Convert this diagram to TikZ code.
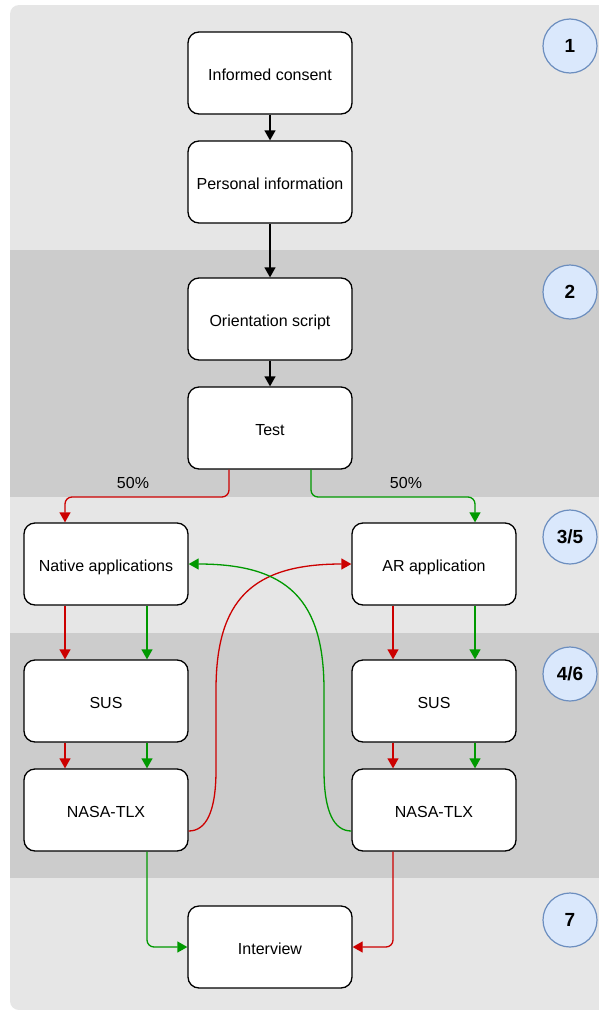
\documentclass[tikz,border=0pt]{standalone}
\usepackage{fontspec}
\setmainfont{Liberation Sans}
\usetikzlibrary{arrows.meta}
\definecolor{bandA}{HTML}{E6E6E6}
\definecolor{bandB}{HTML}{CCCCCC}
\definecolor{cfill}{HTML}{DAE8FC}
\definecolor{cdraw}{HTML}{6C8EBF}
\definecolor{myred}{HTML}{CC0000}
\definecolor{mygreen}{HTML}{009900}
\begin{document}
\begin{tikzpicture}[x=1pt,y=-1pt,
  box/.style={draw, rounded corners=11pt, fill=white, minimum width=164pt, minimum height=82pt,
    line width=1.3pt, font=\fontsize{16}{19}\selectfont, inner sep=0pt,
    text height=16pt, text depth=2pt},
  badge/.style={circle, draw=cdraw, fill=cfill, minimum size=54pt, inner sep=0pt,
    line width=1.2pt, font=\fontsize{19}{22}\selectfont\bfseries},
  conn/.style={line width=1.3pt, -{Triangle[length=10pt,width=11pt]}, rounded corners=7pt},
  pct/.style={font=\fontsize{16}{19}\selectfont, inner sep=0pt}
]
\useasboundingbox (0,0) rectangle (598,1012);
\begin{scope}
  \clip[rounded corners=9pt] (10,5) rectangle (640,1010);
  \fill[bandA] (10,5) rectangle (640,250);
  \fill[bandB] (10,250) rectangle (640,497);
  \fill[bandA] (10,497) rectangle (640,633);
  \fill[bandB] (10,633) rectangle (640,878);
  \fill[bandA] (10,878) rectangle (640,1010);
\end{scope}

\node[box] (ic) at (270,73) {Informed consent};
\node[box] (pi) at (270,182) {Personal information};
\node[box] (os) at (270,319) {Orientation script};
\node[box] (test) at (270,428) {Test};
\node[box] (nat) at (106,564) {Native applications};
\node[box] (ar) at (434,564) {AR application};
\node[box] (susL) at (106,701) {SUS};
\node[box] (susR) at (434,701) {SUS};
\node[box] (nasaL) at (106,810) {NASA-TLX};
\node[box] (nasaR) at (434,810) {NASA-TLX};
\node[box] (int) at (270,947) {Interview};

\node[badge] (b1) at (570,46) {1};
\node[badge] (b2) at (570,292) {2};
\node[badge] (b3) at (570,537) {3/5};
\node[badge] (b4) at (570,674) {4/6};
\node[badge] (b7) at (570,920) {7};

\draw[conn] (ic) -- (pi);
\draw[conn] (pi) -- (os);
\draw[conn] (os) -- (test);

\draw[conn,myred] ([xshift=-41pt]test.south) -- ([xshift=-41pt]test.south |- 0,497)
  -| ([xshift=-41pt]nat.north);
\draw[conn,mygreen] ([xshift=41pt]test.south) -- ([xshift=41pt]test.south |- 0,497)
  -| ([xshift=41pt]ar.north);
\node[pct] (p1) at (133,483) {50\%};
\node[pct] (p2) at (406,483) {50\%};

\draw[conn,myred] ([xshift=-41pt]nat.south) -- ([xshift=-41pt]susL.north);
\draw[conn,mygreen] ([xshift=41pt]nat.south) -- ([xshift=41pt]susL.north);
\draw[conn,myred] ([xshift=-41pt]susL.south) -- ([xshift=-41pt]nasaL.north);
\draw[conn,mygreen] ([xshift=41pt]susL.south) -- ([xshift=41pt]nasaL.north);
\draw[conn,myred] ([xshift=-41pt]ar.south) -- ([xshift=-41pt]susR.north);
\draw[conn,mygreen] ([xshift=41pt]ar.south) -- ([xshift=41pt]susR.north);
\draw[conn,myred] ([xshift=-41pt]susR.south) -- ([xshift=-41pt]nasaR.north);
\draw[conn,mygreen] ([xshift=41pt]susR.south) -- ([xshift=41pt]nasaR.north);

\draw[line width=1.3pt, myred, -{Triangle[length=10pt,width=11pt]}]
  (nasaL.east |- 0,831) .. controls (206,831) and (216,812) .. (216,770)
  -- (216,690) .. controls (216,600) and (252,564) .. (ar.west);
\draw[line width=1.3pt, mygreen, -{Triangle[length=10pt,width=11pt]}]
  (nasaR.west |- 0,831) .. controls (334,831) and (324,812) .. (324,770)
  -- (324,690) .. controls (324,600) and (288,564) .. (nat.east);

\draw[conn,mygreen] ([xshift=41pt]nasaL.south) |- (int.west);
\draw[conn,myred] ([xshift=-41pt]nasaR.south) |- (int.east);
\end{tikzpicture}
\end{document}
